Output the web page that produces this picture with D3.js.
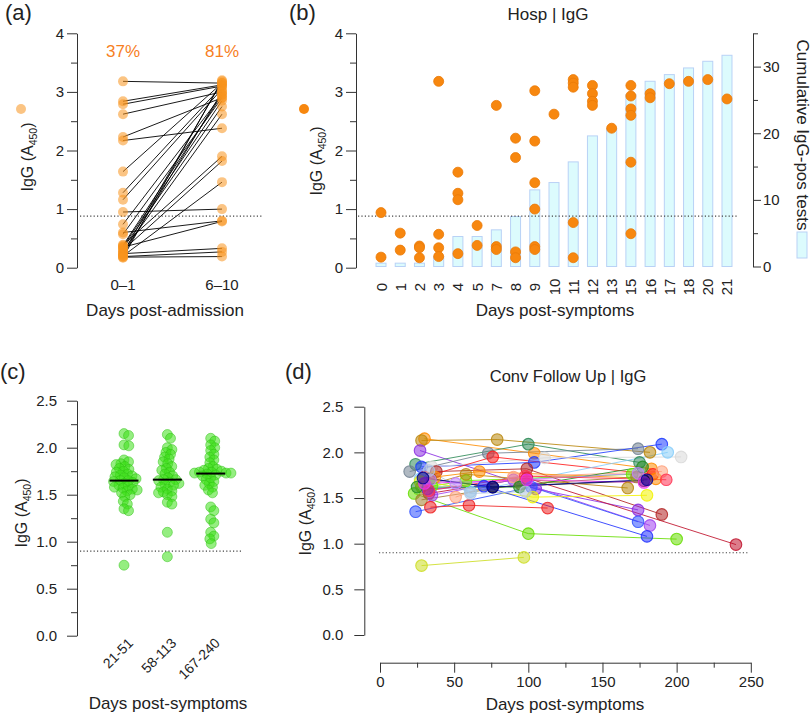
<!DOCTYPE html>
<html><head><meta charset="utf-8">
<script src="https://cdn.jsdelivr.net/npm/d3@7"></script>
<style>
body{margin:0;background:#fff}
svg{display:block;font-family:"Liberation Sans",Arial,Helvetica,sans-serif}
</style></head><body>
<svg id="chart" width="810" height="715"></svg>
<script>
// ---------------- DATA ----------------
// (a) paired admission samples
const admCats = ["0–1", "6–10"];
const admPct = ["37%", "81%"];
const admEarly = [3.18, 2.84, 2.79, 2.62, 2.23, 2.17, 1.64, 1.28, 1.16, 0.95, 0.74, 0.60, 0.57, 0.39, 0.36, 0.33, 0.30, 0.28, 0.25, 0.24, 0.22, 0.20, 0.19, 0.18, 0.17, 0.35, 0.38];
const admLate  = [3.15, 3.12, 3.10, 3.00, 2.90, 2.38, 3.15, 3.10, 3.05, 1.00, 2.95, 0.80, 2.90, 1.90, 2.85, 2.75, 1.82, 2.62, 3.18, 0.33, 3.00, 1.46, 0.27, 0.19, 3.20, 0.79, 2.95];
const cutoffHosp = 0.88;

// (b) hospital samples by day post-symptoms
const hospDays = [0, 1, 2, 3, 4, 5, 7, 8, 9, 10, 11, 12, 13, 15, 16, 17, 18, 20, 21];
const hospCumPos = [0.5, 0.5, 0.5, 1.5, 4.5, 4.5, 5.5, 7.5, 11.5, 12.6, 15.7, 19.6, 20.7, 25.8, 27.8, 28.8, 29.8, 30.8, 31.7];
const hospPtDay = [0,0, 1,1, 2,2,2, 3,3,3,3, 4,4,4,4, 5,5, 7,7,7, 8,8,8,8, 9,9,9,9,9,9, 10, 11,11,11,11,11, 12,12,12,12, 13, 15,15,15,15,15,15, 16,16, 17, 18, 20, 21];
const hospPtIgG = [0.94,0.18, 0.59,0.30, 0.37,0.34,0.17, 3.18,0.57,0.34,0.19, 1.63,1.27,1.16,0.24, 0.72,0.38, 2.77,0.36,0.31, 2.21,1.88,0.27,0.17, 3.02,2.16,1.45,1.00,0.36,0.31, 2.62, 3.21,3.15,3.08,0.77,0.17, 3.11,2.97,2.84,2.77, 2.38, 3.11,2.93,2.71,2.60,1.80,0.58, 2.97,2.90, 3.14, 3.18, 3.21, 2.88];

// (c) convalescent groups
const convCats = ["21-51", "58-113", "167-240"];
const conv1 = [2.15, 2.13, 2.03, 2.02, 1.87, 1.85, 1.83, 1.82, 1.80, 1.78, 1.77, 1.75, 1.74, 1.72, 1.71, 1.70, 1.69, 1.68, 1.67, 1.65, 1.65, 1.64, 1.63, 1.62, 1.60, 1.59, 1.58, 1.57, 1.56, 1.55, 1.54, 1.52, 1.50, 1.48, 1.43, 1.40, 1.35, 1.33, 0.75];
const conv2 = [2.14, 2.10, 2.00, 1.98, 1.95, 1.93, 1.90, 1.88, 1.85, 1.83, 1.80, 1.78, 1.76, 1.74, 1.72, 1.70, 1.68, 1.66, 1.66, 1.65, 1.63, 1.62, 1.61, 1.60, 1.58, 1.56, 1.54, 1.53, 1.52, 1.50, 1.48, 1.42, 1.40, 1.10, 0.84];
const conv3 = [2.10, 2.07, 2.03, 2.00, 1.97, 1.93, 1.90, 1.87, 1.84, 1.80, 1.78, 1.77, 1.76, 1.75, 1.74, 1.74, 1.73, 1.73, 1.73, 1.72, 1.71, 1.70, 1.68, 1.66, 1.64, 1.62, 1.60, 1.58, 1.55, 1.52, 1.37, 1.33, 1.24, 1.20, 1.10, 1.06, 1.03, 0.98];
const cutoffConv = 0.9;

// (d) follow-up per subject
const fuDays = [[30,104,183],[28,79,182],[27,105,174],[24,100,175],[20,73,174],[28,104,190],[35,111,203],[38,99,190],[30,76,184],[34,76,178],[27,61,194],[37,67,186],[35,58,170],[28,58,167],[23,100,200],[33,99,240],[35,90,182],[28,95,173],[24,102,174],[34,60,113],[28,97],[27,103,180],[32,70,180],[51,90,190],[25,94,177],[34,51,174],[33,98,193],[33,61,98],[30,99,178],[29,76,180]];
const fuIgG  = [[2.15,1.99,1.82],[2.13,2.14,2.00],[2.02,1.60,1.37],[1.87,2.09,1.89],[1.79,1.99,2.04],[1.84,1.89,2.09],[1.84,1.94,1.95],[1.79,1.82,1.32],[1.73,1.95,1.76],[1.71,1.62,1.69],[1.71,1.57,2.00],[1.73,1.79,1.71],[1.63,1.69,1.76],[1.62,1.76,1.61],[1.55,1.11,1.05],[1.55,1.72,0.99],[1.53,1.70,1.20],[1.48,1.65,1.73],[1.35,1.62,1.24],[1.40,1.42,1.39],[0.76,0.85],[1.68,1.51,1.53],[1.60,1.63,1.08],[1.51,1.73,1.79],[1.62,1.62,1.84],[1.70,1.66,1.77],[1.58,1.74,1.70],[1.80,1.55,1.57],[1.66,1.70,1.67],[1.72,1.62,1.70]];
const fuColors = ["#ff8c00","#b8860b","#8a2be2","#2e8b57","#708090","#1e3cff","#d8d8d8","#b22222","#ff1a1a","#111111","#87cefa","#ff8c00","#66ee00","#b8860b","#66dd00","#c0102a","#a040f0","#a08030","#3050ff","#ee2222","#ccdd22","#f2f200","#2030ff","#ffa07a","#228b22","#c080ff","#ff3050","#b0c4de","#ee30ee","#000090"];

// ---------------- DRAW ----------------
const svg = d3.select("#chart");
const TXT = "#222", AX = "#333";
const tickFs = 15;

function styleAxis(g, keepDomain = true) {
  g.attr("font-family", null).attr("font-size", tickFs);
  g.select(".domain").attr("stroke", AX).attr("stroke-width", 1);
  if (!keepDomain) g.select(".domain").remove();
  g.selectAll(".tick line").attr("stroke", AX).attr("stroke-width", 1);
  g.selectAll(".tick text").attr("fill", TXT);
  return g;
}
function dotted(x1, x2, y) {
  svg.append("line").attr("x1", x1).attr("x2", x2).attr("y1", y).attr("y2", y)
    .attr("stroke", "#444").attr("stroke-width", 1.1).attr("stroke-dasharray", "1.2,2.2");
}
function panelLabel(t, x, y) {
  svg.append("text").attr("x", x).attr("y", y).attr("font-size", 22).attr("fill", TXT).text(t);
}
function igGLabel(x, cy, rot) {
  const t = svg.append("text").attr("transform", `translate(${x},${cy}) rotate(${rot})`)
    .attr("text-anchor", "middle").attr("font-size", 16).attr("fill", TXT);
  t.append("tspan").text("IgG (A");
  t.append("tspan").attr("font-size", 10.5).attr("dy", 4).text("450");
  t.append("tspan").attr("dy", -4).text(")");
  return t;
}

// ===== Panel (a) =====
{
  const ya = d3.scaleLinear().domain([0, 4]).range([267.7, 33.3]);
  const xa = d3.scalePoint().domain(admCats).range([123, 222]);
  panelLabel("(a)", 5, 20);
  styleAxis(svg.append("g").attr("transform", "translate(77,0)")
    .call(d3.axisLeft(ya).tickValues([0, 1, 2, 3, 4]).tickSize(10).tickSizeOuter(0).tickPadding(3).tickFormat(d3.format("d"))));
  styleAxis(svg.append("g").attr("transform", "translate(77,0)")
    .call(d3.axisLeft(ya).tickValues([0.5, 1.5, 2.5, 3.5]).tickSize(6).tickSizeOuter(0).tickFormat("")), false);
  dotted(80, 262, ya(cutoffHosp));
  const g = svg.append("g");
  admEarly.forEach((v, i) => {
    g.append("line").attr("x1", xa(admCats[0])).attr("y1", ya(v))
      .attr("x2", xa(admCats[1])).attr("y2", ya(admLate[i]))
      .attr("stroke", "#000").attr("stroke-width", 0.9);
  });
  const pts = admEarly.map(v => [admCats[0], v]).concat(admLate.map(v => [admCats[1], v]));
  svg.append("g").selectAll("circle").data(pts).join("circle")
    .attr("cx", d => xa(d[0])).attr("cy", d => ya(d[1])).attr("r", 5)
    .attr("fill", "#f7931e").attr("fill-opacity", 0.55);
  svg.append("g").selectAll("text").data(admCats).join("text")
    .attr("x", d => xa(d)).attr("y", 57).attr("text-anchor", "middle")
    .attr("font-size", 17).attr("fill", "#f7801f").text((d, i) => admPct[i]);
  svg.append("g").selectAll("text").data(admCats).join("text")
    .attr("x", d => xa(d)).attr("y", 290).attr("text-anchor", "middle")
    .attr("font-size", tickFs).attr("fill", TXT).text(d => d);
  svg.append("text").attr("x", 165).attr("y", 316).attr("text-anchor", "middle")
    .attr("font-size", 17).attr("fill", TXT).text("Days post-admission");
  igGLabel(33, 157, -90);
  svg.append("circle").attr("cx", 21).attr("cy", 109).attr("r", 5).attr("fill", "#f7931e").attr("fill-opacity", 0.55);
}

// ===== Panel (b) =====
{
  const yb = d3.scaleLinear().domain([0, 4]).range([267.7, 33.3]);
  const yr = d3.scaleLinear().domain([0, 35]).range([266.5, 33.3]);
  const xb = d3.scaleBand().domain(hospDays).range([371.4, 736.6]);
  const cx = d => xb(d) + xb.bandwidth() / 2;
  panelLabel("(b)", 289, 20);
  svg.append("text").attr("x", 548).attr("y", 20).attr("text-anchor", "middle")
    .attr("font-size", 17).attr("fill", TXT).text("Hosp | IgG");
  // bars
  svg.append("g").selectAll("rect").data(hospDays).join("rect")
    .attr("x", d => cx(d) - 5).attr("width", 10)
    .attr("y", (d, i) => yr(hospCumPos[i])).attr("height", (d, i) => yr(0) - yr(hospCumPos[i]))
    .attr("fill", "#dcfbfd").attr("stroke", "#b9d2f6").attr("stroke-width", 1);
  styleAxis(svg.append("g").attr("transform", "translate(356,0)")
    .call(d3.axisLeft(yb).tickValues([0, 1, 2, 3, 4]).tickSize(10).tickSizeOuter(0).tickPadding(3).tickFormat(d3.format("d"))));
  styleAxis(svg.append("g").attr("transform", "translate(356,0)")
    .call(d3.axisLeft(yb).tickValues([0.5, 1.5, 2.5, 3.5]).tickSize(6).tickSizeOuter(0).tickFormat("")), false);
  styleAxis(svg.append("g").attr("transform", "translate(753,0)")
    .call(d3.axisRight(yr).tickValues([0, 10, 20, 30]).tickSize(8).tickSizeOuter(0).tickPadding(2).tickFormat(d3.format("d"))));
  styleAxis(svg.append("g").attr("transform", "translate(753,0)")
    .call(d3.axisRight(yr).tickValues([5, 15, 25, 35]).tickSize(5).tickSizeOuter(0).tickFormat("")), false);
  dotted(358, 738, yb(cutoffHosp));
  svg.append("g").selectAll("circle").data(hospPtDay).join("circle")
    .attr("cx", d => cx(d)).attr("cy", (d, i) => yb(hospPtIgG[i])).attr("r", 5)
    .attr("fill", "#f7870f").attr("stroke", "#ea7a08").attr("stroke-width", 0.8);
  svg.append("g").selectAll("text").data(hospDays).join("text")
    .attr("transform", d => `translate(${cx(d)},287) rotate(-90)`)
    .attr("text-anchor", "middle").attr("dominant-baseline", "central")
    .attr("font-size", tickFs).attr("fill", TXT).text(d => d);
  svg.append("text").attr("x", 555).attr("y", 316).attr("text-anchor", "middle")
    .attr("font-size", 17).attr("fill", TXT).text("Days post-symptoms");
  igGLabel(322, 161, -90);
  svg.append("circle").attr("cx", 304).attr("cy", 109).attr("r", 5).attr("fill", "#f7870f");
  svg.append("text").attr("transform", "translate(802,135) rotate(90)")
    .attr("text-anchor", "middle").attr("dominant-baseline", "central")
    .attr("font-size", 17).attr("fill", TXT).text("Cumulative IgG-pos tests");
  svg.append("rect").attr("x", 797).attr("y", 232).attr("width", 10).attr("height", 26)
    .attr("fill", "#dcfbfd").attr("stroke", "#b9d2f6");
}

// ===== Panel (c) =====
{
  const yc = d3.scaleLinear().domain([0, 2.5]).range([635.7, 400.7]);
  const xc = d3.scalePoint().domain(convCats).range([124, 210.7]);
  panelLabel("(c)", 0, 379);
  styleAxis(svg.append("g").attr("transform", "translate(77,0)")
    .call(d3.axisLeft(yc).tickValues([0, 0.5, 1, 1.5, 2, 2.5]).tickSize(10).tickSizeOuter(0).tickPadding(10).tickFormat(d3.format(".1f"))));
  styleAxis(svg.append("g").attr("transform", "translate(77,0)")
    .call(d3.axisLeft(yc).tickValues([0.25, 0.75, 1.25, 1.75, 2.25]).tickSize(6).tickSizeOuter(0).tickFormat("")), false);
  dotted(80, 243, yc(cutoffConv));
  const groups = [conv1, conv2, conv3];
  const diam = 4.9;
  groups.forEach((vals, gi) => {
    const cx0 = xc(convCats[gi]);
    const pts = vals.map(v => ({ v, y: yc(v) })).sort((a, b) => b.v - a.v);
    const placed = [];
    pts.forEach(p => {
      const cands = [0];
      placed.forEach(q => {
        const dy = Math.abs(p.y - q.y);
        if (dy < diam) { const dx = Math.sqrt(diam * diam - dy * dy); cands.push(q.x + dx, q.x - dx); }
      });
      cands.sort((a, b) => Math.abs(a) - Math.abs(b));
      for (const c of cands) {
        if (placed.every(q => Math.hypot(c - q.x, p.y - q.y) >= diam - 1e-6)) { p.x = c; break; }
      }
      placed.push(p);
    });
    svg.append("g").selectAll("circle").data(placed).join("circle")
      .attr("cx", d => cx0 + d.x).attr("cy", d => d.y).attr("r", 5)
      .attr("fill", "#3ee01a").attr("fill-opacity", 0.55)
      .attr("stroke", "#2cc010").attr("stroke-opacity", 0.6).attr("stroke-width", 0.8);
    const med = d3.median(vals);
    svg.append("line").attr("x1", cx0 - 14.5).attr("x2", cx0 + 14.5).attr("y1", yc(med)).attr("y2", yc(med))
      .attr("stroke", "#000").attr("stroke-width", 2);
  });
  svg.append("g").selectAll("text").data(convCats).join("text")
    .attr("transform", d => `translate(${xc(d) + 10},644) rotate(-45)`)
    .attr("text-anchor", "end").attr("font-size", 14).attr("fill", TXT).text(d => d);
  svg.append("text").attr("x", 168).attr("y", 709).attr("text-anchor", "middle")
    .attr("font-size", 17).attr("fill", TXT).text("Days post-symptoms");
  igGLabel(27, 513, -90);
}

// ===== Panel (d) =====
{
  const yd = d3.scaleLinear().domain([0, 2.5]).range([635, 406.7]);
  const xd = d3.scaleLinear().domain([0, 250]).range([380, 750.8]);
  panelLabel("(d)", 285, 379);
  svg.append("text").attr("x", 568).attr("y", 382).attr("text-anchor", "middle")
    .attr("font-size", 16.5).attr("fill", TXT).text("Conv Follow Up | IgG");
  styleAxis(svg.append("g").attr("transform", "translate(364.3,0)")
    .call(d3.axisLeft(yd).tickValues([0, 0.5, 1, 1.5, 2, 2.5]).tickSize(10).tickSizeOuter(0).tickPadding(11).tickFormat(d3.format(".1f"))));
  styleAxis(svg.append("g").attr("transform", "translate(0,662.7)")
    .call(d3.axisBottom(xd).tickValues([0, 50, 100, 150, 200, 250]).tickSize(10).tickSizeOuter(0).tickPadding(4).tickFormat(d3.format("d"))));
  styleAxis(svg.append("g").attr("transform", "translate(0,662.7)")
    .call(d3.axisBottom(xd).tickValues([25, 75, 125, 175, 225]).tickSize(5).tickSizeOuter(0).tickFormat("")), false);
  dotted(379, 748, yd(cutoffConv));
  const lineGen = d3.line().x(d => xd(d[0])).y(d => yd(d[1]));
  const subj = fuDays.map((ds, i) => ({ pts: ds.map((d, j) => [d, fuIgG[i][j]]), col: fuColors[i] }));
  svg.append("g").selectAll("path").data(subj).join("path")
    .attr("d", d => lineGen(d.pts)).attr("fill", "none")
    .attr("stroke", d => d.col).attr("stroke-width", 1).attr("stroke-opacity", 0.85);
  subj.forEach(s => {
    svg.append("g").selectAll("circle").data(s.pts).join("circle")
      .attr("cx", d => xd(d[0])).attr("cy", d => yd(d[1])).attr("r", 5.8)
      .attr("fill", s.col).attr("fill-opacity", 0.55)
      .attr("stroke", s.col).attr("stroke-width", 1.1).attr("stroke-opacity", 0.85);
  });
  svg.append("text").attr("x", 565).attr("y", 710).attr("text-anchor", "middle")
    .attr("font-size", 17).attr("fill", TXT).text("Days post-symptoms");
  igGLabel(311, 521, -90);
}
</script>
</body></html>
